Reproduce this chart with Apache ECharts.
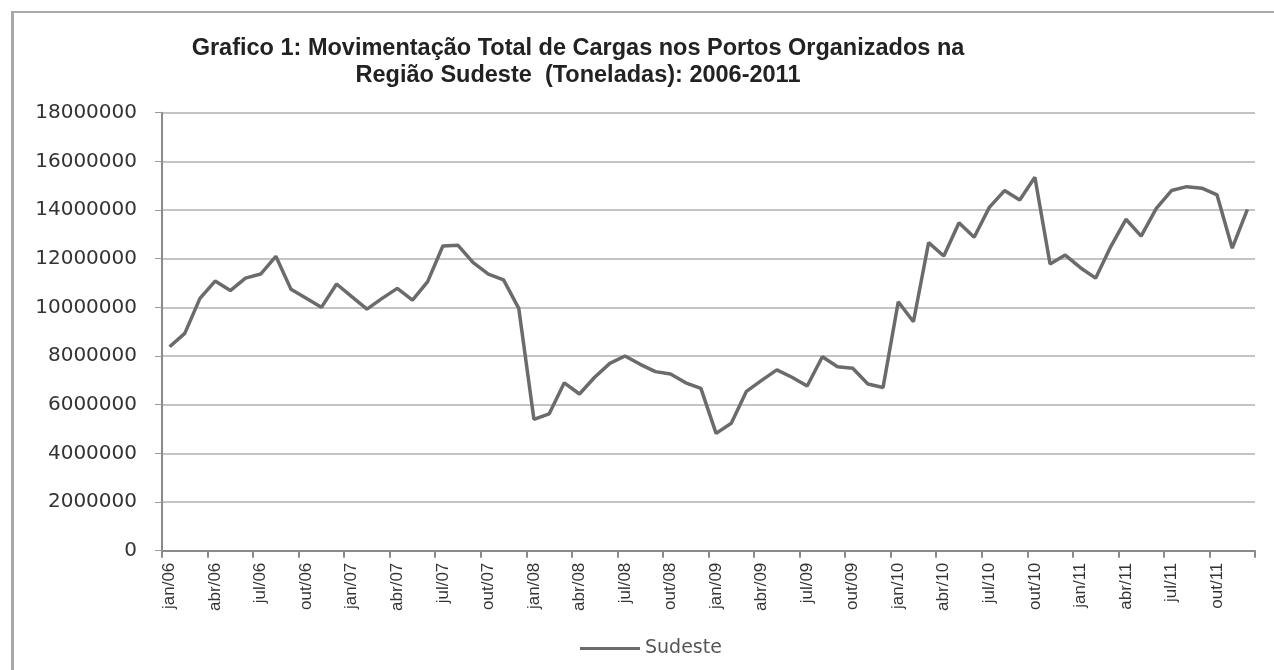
<!DOCTYPE html>
<html>
<head>
<meta charset="utf-8">
<script src="https://cdn.jsdelivr.net/npm/echarts@6/dist/echarts.min.js"></script>
<style>
  html, body { margin: 0; padding: 0; background: #fff; }
  #frame { position: absolute; left: 11px; top: 11px; right: 0; bottom: 0;
           border-left: 3px solid #a8a8a8; border-top: 2px solid #a8a8a8; }
  #chart { position: absolute; left: 0; top: 0; width: 1274px; height: 670px; }
</style>
</head>
<body>
<div id="frame"></div>
<div id="chart"></div>
<script>
// month names and years used for the category labels
const monthNames = ['jan', 'fev', 'mar', 'abr', 'mai', 'jun', 'jul', 'ago', 'set', 'out', 'nov', 'dez'];
const years = ['06', '07', '08', '09', '10', '11'];
const categories = [];
years.forEach(y => monthNames.forEach(m => categories.push(m + '/' + y)));

// Sudeste, toneladas por mes (jan/06 .. dez/11)
const sudeste = [
    8380000, 8930000, 10370000, 11080000, 10690000, 11200000, 11370000, 12100000, 10740000, 10370000, 10000000, 10960000,
    10440000, 9930000, 10370000, 10780000, 10300000, 11060000, 12520000, 12550000, 11840000, 11370000, 11130000, 9960000,
    5400000, 5620000, 6900000, 6440000, 7130000, 7700000, 8000000, 7660000, 7360000, 7260000, 6900000, 6670000,
    4820000, 5240000, 6550000, 7000000, 7430000, 7130000, 6770000, 7970000, 7560000, 7500000, 6850000, 6710000,
    10230000, 9410000, 12660000, 12110000, 13480000, 12880000, 14110000, 14800000, 14410000, 15350000, 11780000, 12150000,
    11630000, 11200000, 12500000, 13620000, 12930000, 14070000, 14800000, 14960000, 14900000, 14620000, 12430000, 14030000
];

const yTicks = { min: 0, max: 18000000, step: 2000000 };

const chart = echarts.init(document.getElementById('chart'));
chart.setOption({
    backgroundColor: 'transparent',
    animation: false,
    title: {
        text: 'Grafico 1: Movimentação Total de Cargas nos Portos Organizados na\nRegião Sudeste  (Toneladas): 2006-2011',
        left: 573,
        top: 30,
        textAlign: 'center',
        textStyle: {
            fontFamily: 'Liberation Sans, Arial, sans-serif',
            fontSize: 23.5,
            fontWeight: 'bold',
            color: '#222',
            lineHeight: 27
        }
    },
    legend: {
        data: ['Sudeste'],
        icon: 'rect',
        left: 575,
        top: 634,
        itemWidth: 60,
        itemHeight: 3,
        itemGap: 5,
        textStyle: { fontFamily: 'DejaVu Sans, sans-serif', fontSize: 19, color: '#555' }
    },
    grid: {
        left: 162,
        right: 19,
        top: 112.7,
        bottom: 119.3,
        containLabel: false
    },
    xAxis: {
        type: 'category',
        data: categories,
        boundaryGap: true,
        axisLine: { lineStyle: { color: '#8a8a8a', width: 2 } },
        axisTick: { show: true, interval: 2, length: 7, lineStyle: { color: '#8a8a8a', width: 2 } },
        axisLabel: {
            interval: 2,
            rotate: 90,
            margin: 12,
            fontFamily: 'Liberation Sans, Arial, sans-serif',
            fontSize: 17,
            color: '#333'
        },
        splitLine: { show: false }
    },
    yAxis: {
        type: 'value',
        min: yTicks.min,
        max: yTicks.max,
        interval: yTicks.step,
        axisLine: { show: true, lineStyle: { color: '#8a8a8a', width: 2 } },
        axisTick: { show: true, length: 7, lineStyle: { color: '#9a9a9a' } },
        axisLabel: {
            margin: 25,
            formatter: v => String(v),
            fontFamily: 'DejaVu Sans, sans-serif',
            fontSize: 20,
            color: '#333'
        },
        splitLine: { lineStyle: { color: '#c4c4c4', width: 2 } }
    },
    series: [
        {
            name: 'Sudeste',
            type: 'line',
            data: sudeste,
            symbol: 'none',
            smooth: false,
            lineStyle: { color: '#6b6b6b', width: 3.5 },
            itemStyle: { color: '#6b6b6b' }
        }
    ]
});
</script>
</body>
</html>
